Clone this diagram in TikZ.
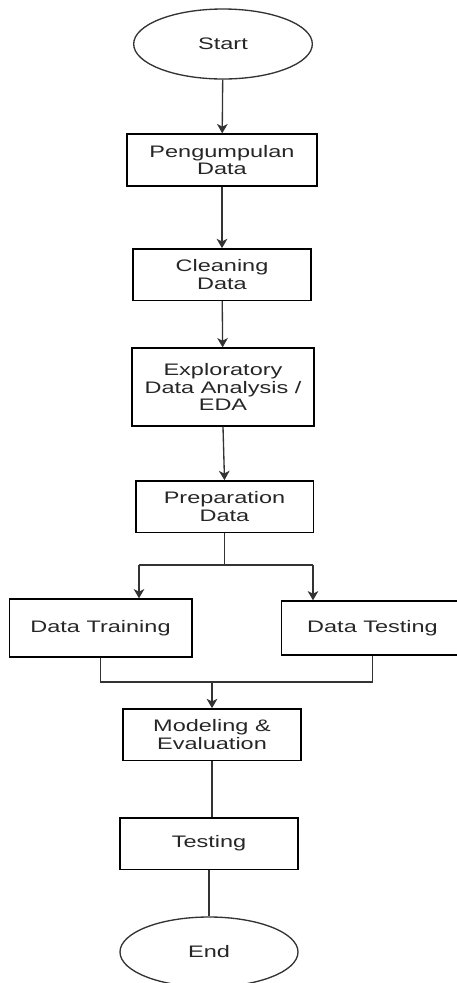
\documentclass[tikz,border=0pt]{standalone}
\usepackage{fontspec}
\setmainfont[FakeStretch=1.41]{Liberation Sans}
\usetikzlibrary{shapes.geometric,arrows.meta}

\begin{document}
\begin{tikzpicture}[x=0.75pt,y=-0.75pt]
			\tikzstyle{every node}+=[font=\fontsize{12.5}{13}\selectfont, text=black!85, align=center, inner sep=0pt]
			\tikzstyle{proc}=[draw=black, line width=1pt, rectangle, minimum height=38.5pt]
			\tikzstyle{term}=[draw=black!80, line width=1pt, ellipse, minimum width=134pt, minimum height=52.5pt]
			\tikzstyle{flow}=[draw=black!80, line width=1pt]
			\tikzstyle{arr}=[flow, -{Stealth[length=7pt, width=8pt, inset=2pt]}]
			\useasboundingbox (0,0) rectangle (457,983);
			\node [term] (start) at (223,44) {Start};
			\node [proc, minimum width=142.5pt, minimum height=39pt] (kumpul) at (222,160) {Pengumpulan\\Data};
			\node [proc, minimum width=133.5pt] (clean) at (222,274.5) {Cleaning\\Data};
			\node [proc, minimum width=136.5pt, minimum height=58.5pt] (eda) at (223,387) {Exploratory\\Data Analysis /\\EDA};
			\node [proc, minimum width=133pt] (prep) at (224.5,506.5) {Preparation\\Data};
			\node [proc, minimum width=137pt, minimum height=43.5pt] (train) at (100.5,628) {Data Training};
			\node [proc, minimum width=137pt, minimum height=40.5pt] (testdata) at (372.5,628) {Data Testing};
			\node [proc, minimum width=133.5pt] (model) at (212,734.5) {Modeling \&\\Evaluation};
			\node [proc, minimum width=133.5pt] (testing) at (209,843.5) {Testing};
			\node [term, minimum width=133.5pt] (end) at (209,952) {End};
			\coordinate (split) at (224.5,565);
			\coordinate (splitL) at (139,565);
			\coordinate (splitR) at (313,565);
			\coordinate (joinL) at (100.5,682);
			\coordinate (joinR) at (372.5,682);
			\coordinate (join) at (212,682);
			\draw [arr] (start) -- (kumpul);
			\draw [arr] (kumpul) -- (clean);
			\draw [arr] (clean) -- (eda);
			\draw [arr] (eda.south) -- (prep.north);
			\draw [flow] (prep) -- (split);
			\draw [flow] (splitL) -- (splitR);
			\draw [arr] (splitL) -- (splitL |- train.north);
			\draw [arr] (splitR) -- (splitR |- testdata.north);
			\draw [flow] (train.south) -- (joinL) -- (joinR) -- (testdata.south);
			\draw [arr] (join) -- (model);
			\draw [flow] (model.south) -- (testing.north -| model.south);
			\draw [flow] (testing) -- (end);
		\end{tikzpicture}
\end{document}
